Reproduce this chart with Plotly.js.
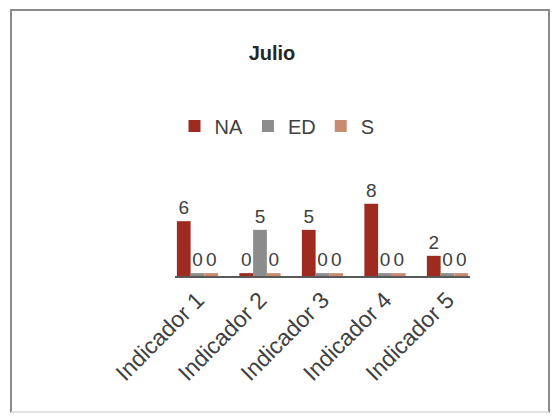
<!DOCTYPE html>
<html>
<head>
<meta charset="utf-8">
<script src="https://cdn.plot.ly/plotly-3.0.1.min.js"></script>
<style>
  html, body { margin: 0; padding: 0; background: #fff; }
  #wrap { position: relative; width: 560px; height: 418px; overflow: hidden; background: #fff; }
  #frame { position: absolute; left: 10px; top: 9px; width: 536px; height: 400px;
           border: 2px solid #8a8a8a; border-bottom-color: #e2e2e2; }
  #chart { position: absolute; left: 0; top: 0; width: 560px; height: 418px; }
</style>
</head>
<body>
<div id="wrap">
  <div id="frame"></div>
  <div id="chart"></div>
</div>
<script>
// ---- data ----
const categories = ["Indicador 1", "Indicador 2", "Indicador 3", "Indicador 4", "Indicador 5"];
const seriesNames = ["NA", "ED", "S"];
const valuesNA = [6, 0, 5, 8, 2];
const valuesED = [0, 5, 0, 0, 0];
const valuesS  = [0, 0, 0, 0, 0];
const chartTitle = "Julio";

// ---- style ----
const colors = ["#9e2b1f", "#8c8c8c", "#c98a70"];
const STUB = 0.33; // small visible stub below zero so zero bars show as thin bars
const FONT = "Liberation Sans, Arial, sans-serif";

const seriesValues = [valuesNA, valuesED, valuesS];
const traces = seriesValues.map((vals, i) => ({
  type: "bar",
  name: seriesNames[i],
  x: categories,
  y: vals.map(v => v + STUB),
  base: -STUB,
  customdata: vals,
  texttemplate: "%{customdata}",
  textposition: "outside",
  cliponaxis: false,
  textfont: { family: FONT, size: 19, color: "#404040" },
  marker: { color: colors[i] },
  hoverinfo: "skip"
}));

const layout = {
  width: 560,
  height: 418,
  paper_bgcolor: "rgba(0,0,0,0)",
  plot_bgcolor: "rgba(0,0,0,0)",
  font: { family: FONT, color: "#404040" },
  margin: { l: 175, r: 90, t: 190, b: 142, pad: 0 },
  title: {
    text: "<b>" + chartTitle + "</b>",
    font: { family: FONT, size: 20, color: "#262626" },
    x: 272 / 560, xanchor: "center", xref: "container",
    y: 1 - 53 / 418, yanchor: "middle", yref: "container"
  },
  showlegend: true,
  legend: {
    orientation: "h",
    xref: "container", yref: "container",
    x: 277 / 560, xanchor: "center",
    y: 1 - 126 / 418, yanchor: "middle",
    font: { family: FONT, size: 20, color: "#404040" },
    itemwidth: 30,
    traceorder: "normal"
  },
  barmode: "group",
  bargap: 0.34,
  bargroupgap: 0,
  xaxis: {
    type: "category",
    range: [-0.36, 4.36],
    showline: true,
    linecolor: "#595959",
    linewidth: 1.5,
    ticks: "",
    tickangle: -45,
    tickfont: { family: FONT, size: 23, color: "#404040" },
    showgrid: false,
    zeroline: false,
    fixedrange: true
  },
  yaxis: {
    visible: false,
    range: [-STUB, 9.6],
    showgrid: false,
    zeroline: false,
    fixedrange: true
  }
};

Plotly.newPlot("chart", traces, layout, { displayModeBar: false, staticPlot: true });
</script>
</body>
</html>
